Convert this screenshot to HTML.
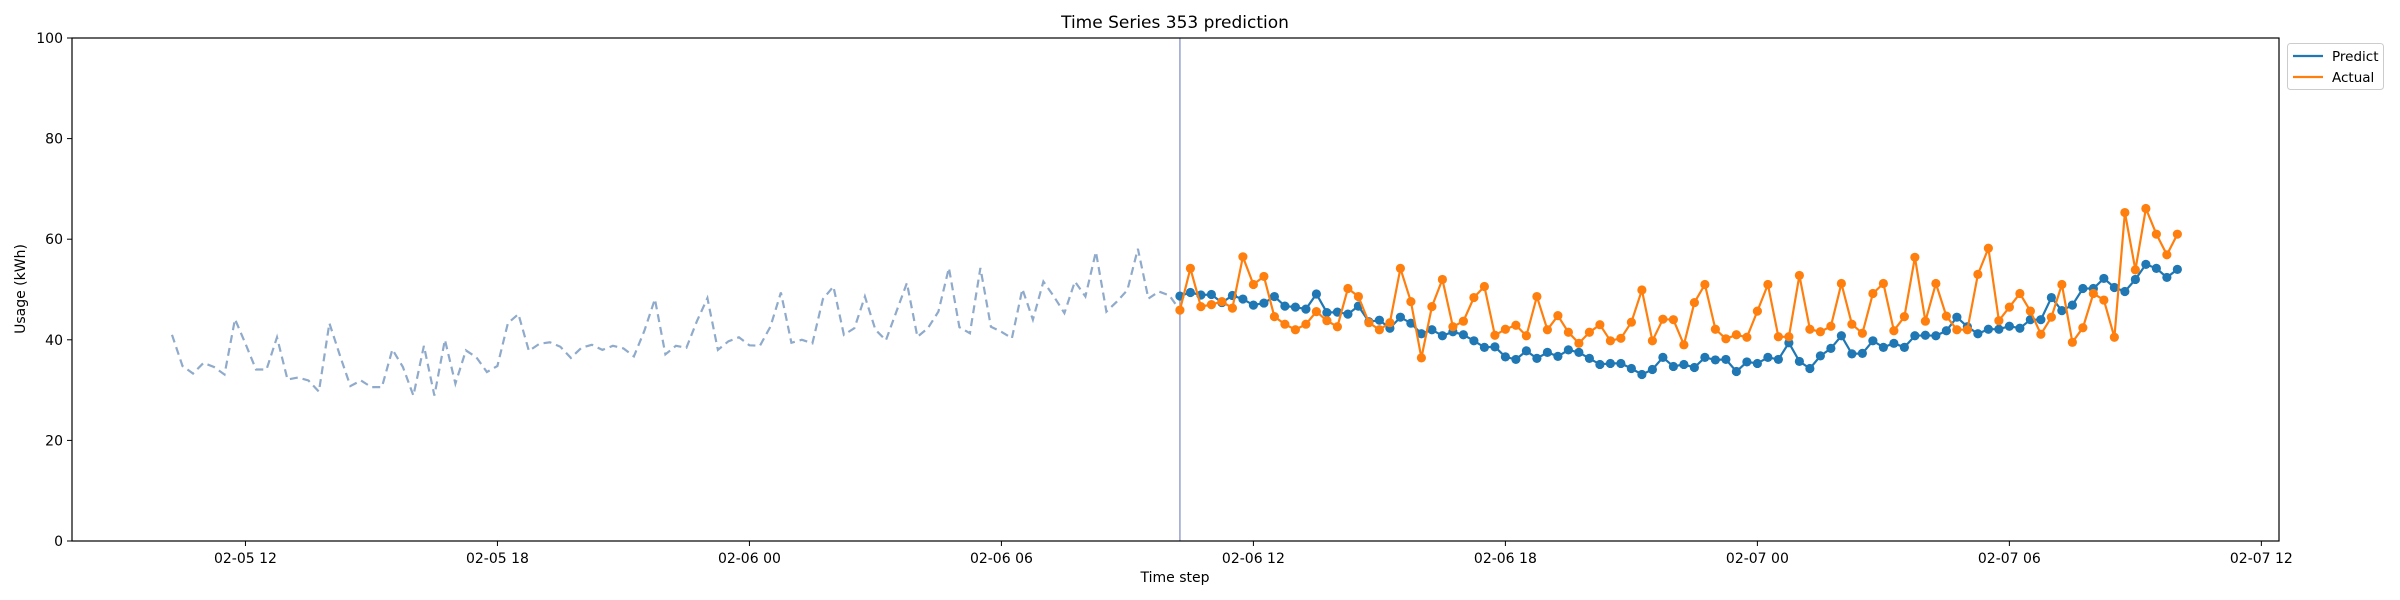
<!DOCTYPE html>
<html><head><meta charset="utf-8"><style>
html,body{margin:0;padding:0;background:#fff;}
svg{display:block;font-family:"DejaVu Sans","Liberation Sans",sans-serif;}
</style></head><body>
<svg id="chart" width="2400" height="600" viewBox="0 0 2400 600" xmlns="http://www.w3.org/2000/svg">
<rect x="0" y="0" width="2400" height="600" fill="#fff"/>
<text x="1175" y="28" font-size="17" text-anchor="middle" fill="#000">Time Series 353 prediction</text>
<text x="1175" y="582" font-size="14" text-anchor="middle" fill="#000">Time step</text>
<text x="0" y="0" font-size="14" text-anchor="middle" fill="#000" transform="translate(25,289) rotate(-90)">Usage (kWh)</text>
<g id="plot"></g>
<g>
<rect x="2287.5" y="43.5" width="96" height="46" rx="3" fill="#fff" stroke="#ccc"/>
<line x1="2293" y1="56" x2="2323" y2="56" stroke="#1f77b4" stroke-width="2.2"/>
<text x="2332" y="61" font-size="13.5" fill="#000">Predict</text>
<line x1="2293" y1="77" x2="2323" y2="77" stroke="#ff7f0e" stroke-width="2.2"/>
<text x="2332" y="82" font-size="13.5" fill="#000">Actual</text>
</g>
</svg>
<script>
const historyValues=[41,34.8,33.3,35.4,34.6,33.1,44.1,39.2,34.1,34.1,40.5,32.1,32.5,31.9,29.7,43.3,36.9,30.8,31.9,30.6,30.6,38.1,34.6,28.9,38.8,28.9,40,31.3,37.9,36.5,33.6,34.8,43.3,45.1,37.8,39.2,39.5,38.6,36.4,38.4,39,38,38.8,38.3,36.7,41.8,48.1,37.1,38.8,38.4,43.7,48.3,38,39.7,40.5,38.9,38.8,42.6,49.4,39.4,40,39.3,48.1,50.6,41.0,42.3,48.6,42,39.9,45.6,51.3,40.6,42.3,45.6,54.3,42.5,41.3,54.3,42.6,41.6,40.3,50.1,44,51.6,48.6,45.3,51.6,48.6,57.5,45.6,47.6,49.9,58.1,48.2,49.6,48.8,45.9];
const predictValues=[48.7,49.4,48.9,49.0,47.4,48.8,48.1,46.9,47.3,48.6,46.7,46.5,46.1,49.1,45.4,45.5,45.1,46.7,43.6,43.9,42.3,44.5,43.3,41.2,42.0,40.8,41.6,41.0,39.8,38.5,38.6,36.6,36.1,37.8,36.3,37.5,36.7,38.0,37.5,36.3,35.1,35.3,35.3,34.3,33.1,34.1,36.5,34.7,35.1,34.5,36.5,36.0,36.1,33.7,35.6,35.3,36.5,36.1,39.4,35.7,34.3,36.8,38.3,40.8,37.2,37.3,39.8,38.5,39.3,38.5,40.8,40.9,40.8,41.8,44.5,42.6,41.2,42.1,42.1,42.7,42.3,44.0,44.0,48.4,45.8,46.9,50.2,50.2,52.2,50.4,49.6,52.0,55.0,54.2,52.4,54.0];
const actualValues=[45.9,54.2,46.6,47.0,47.6,46.3,56.5,51.0,52.6,44.6,43.1,42.0,43.1,45.6,43.8,42.6,50.2,48.6,43.4,42.0,43.4,54.2,47.6,36.4,46.6,52.0,42.6,43.7,48.4,50.6,40.9,42.1,42.9,40.8,48.6,42.0,44.8,41.5,39.3,41.5,43.0,39.8,40.3,43.5,49.9,39.8,44.1,44.0,39.0,47.4,51.0,42.1,40.2,41.0,40.5,45.7,51.0,40.6,40.6,52.8,42.1,41.6,42.7,51.2,43.1,41.3,49.2,51.2,41.8,44.6,56.4,43.7,51.2,44.7,42.0,42.0,53.0,58.2,43.8,46.5,49.2,45.7,41.1,44.5,51.0,39.5,42.4,49.2,47.9,40.5,65.3,53.9,66.1,61.0,56.9,61.0];
const yTicks=[0,20,40,60,80,100];
const xTickHours=[0,6,12,18,24,30,36,42,48];
const xTickLabels=["02-05 12","02-05 18","02-06 00","02-06 06","02-06 12","02-06 18","02-07 00","02-07 06","02-07 12"];
const historyStartHour=-1.75; // 02-05 10:15 relative to 02-05 12:00
const stepHours=0.25;

const L=72,R=2279,T=38,B=541;
const yMin=0,yMax=100,xMin=-4.13,xMax=48.42;
function xs(h){return L+(h-xMin)/(xMax-xMin)*(R-L);}
function ys(v){return B-(v-yMin)/(yMax-yMin)*(B-T);}
const NS="http://www.w3.org/2000/svg";
const plot=document.getElementById('plot');
function mk(tag,attrs,parent){const e=document.createElementNS(NS,tag);for(const k in attrs)e.setAttribute(k,attrs[k]);(parent||plot).appendChild(e);return e;}

yTicks.forEach(v=>{
  const t=mk('line',{x1:L-5,x2:L,y1:ys(v),y2:ys(v),stroke:'#000','stroke-width':1});
  
  
  const lb=mk('text',{x:L-9,y:ys(v)+5,'font-size':14,'text-anchor':'end',fill:'#000'});
  lb.textContent=v;
  
  
});
xTickHours.forEach((h,i)=>{
  const t=mk('line',{x1:xs(h),x2:xs(h),y1:B,y2:B+5,stroke:'#000','stroke-width':1});
  
  
  const lb=mk('text',{x:xs(h),y:B+22,'font-size':14,'text-anchor':'middle',fill:'#000'});
  lb.textContent=xTickLabels[i];
  
  
});

const hEnd=historyStartHour+(historyValues.length-1)*stepHours;
const hp=historyValues.map((v,i)=>xs(historyStartHour+i*stepHours).toFixed(1)+','+ys(v).toFixed(1)).join(' ');
const hl=mk('polyline',{points:hp,fill:'none',stroke:'#8faacb','stroke-width':2.2,'stroke-dasharray':'8,5'});



const vl=mk('line',{x1:xs(hEnd),x2:xs(hEnd),y1:T,y2:B,stroke:'#9ea7d0','stroke-width':1.6});



function series(vals,color,name){
  const pts=vals.map((v,i)=>xs(hEnd+i*stepHours).toFixed(1)+','+ys(v).toFixed(1)).join(' ');
  const pl=mk('polyline',{points:pts,fill:'none',stroke:color,'stroke-width':2.2});
  
  
  vals.forEach((v,i)=>{
    const c=mk('circle',{cx:xs(hEnd+i*stepHours),cy:ys(v),r:4.6,fill:color});
    
    
  });
}
series(predictValues,'#1f77b4','predict');
series(actualValues,'#ff7f0e','actual');

const fr=mk('rect',{x:L,y:T,width:R-L,height:B-T,fill:'none',stroke:'#000','stroke-width':1.2});


</script>
</body></html>
